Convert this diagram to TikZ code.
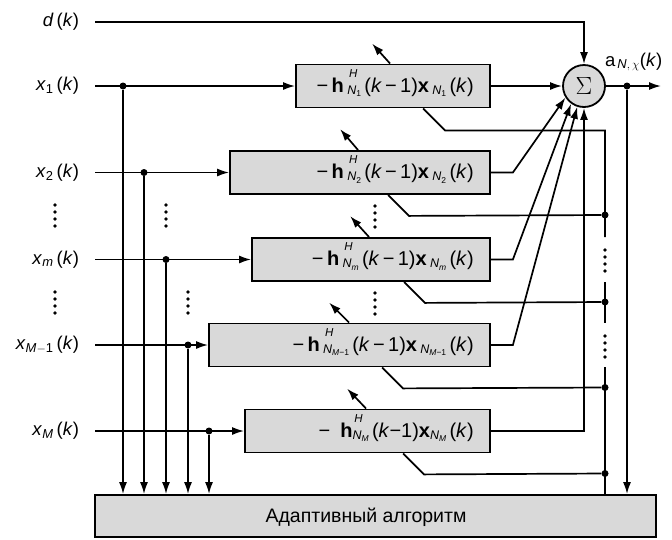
\documentclass[tikz,border=0pt]{standalone}
\usepackage{amsmath}
\usepackage{fontspec}
\setmainfont{Liberation Sans}
\usetikzlibrary{arrows.meta,positioning,calc}

\newcommand{\scr}[2]{{\fontsize{#1}{#1}\selectfont #2}}
\newcommand{\nsub}[1]{\raisebox{-2pt}{\scr{12.5}{\textit{N}}\raisebox{-2.5pt}{\scr{8.5}{#1}}}}
\newcommand{\hsup}[1]{\rlap{\raisebox{15pt}{\scr{11.5}{\,\textit{H}}}}\nsub{#1}}
\newcommand{\hterm}[1]{−\,\textbf{h}\,\hsup{#1}\,(\textit{k}\,−\,1)\textbf{x}\,\nsub{#1}\,(\textit{k})}
\newcommand{\xin}[1]{\textit{x}$_{#1}$\,(\textit{k})}
\newcommand{\vdotsat}[2]{\foreach \k in {0,...,3} \fill (#1,#2+\k*7) circle (1.9pt);}

\begin{document}
\begin{tikzpicture}[x=1pt,y=-1pt,
    blk/.style={draw, line width=1.8pt, fill=black!15, minimum height=43pt, inner sep=0pt},
    txt/.style={font=\fontsize{18.5}{21}\selectfont, inner sep=0pt},
    htxt/.style={font=\fontsize{20}{22}\selectfont, inner sep=0pt, anchor=base east},
    lbl/.style={txt, anchor=east, outer xsep=16pt},
    arr/.style={-{Latex[length=12pt,width=8pt]}, line width=1.7pt},
    ln/.style={line width=1.7pt},
    dot/.style={circle, fill, inner sep=0pt, minimum size=7pt}
]
\useasboundingbox (0,0) rectangle (672,539);

\node[blk, minimum width=194pt] (b1) at (393,86) {};
\node[blk, minimum width=260pt] (b2) at (360,172.5) {};
\node[blk, minimum width=238pt] (bm) at (371,259.5) {};
\node[blk, minimum width=281pt] (bM1) at (349.5,345) {};
\node[blk, minimum width=245pt] (bM) at (367.5,431) {};
\node[blk, minimum width=561pt, minimum height=42pt] (alg) at (375.5,516) {};
\node[txt, font=\fontsize{19.5}{22}\selectfont] (algt) at (366,517) {Адаптивный алгоритм};

\node[htxt] (t1) at ([xshift=-17pt,yshift=-6pt]b1.east) {\hterm{1}};
\node[htxt] (t2) at ([xshift=-17pt,yshift=-6pt]b2.east) {\hterm{2}};
\node[htxt] (tm) at ([xshift=-17pt,yshift=-6pt]bm.east) {\hterm{\textit{m}}};
\node[htxt] (tM1) at ([xshift=-17pt,yshift=-6pt]bM1.east) {\hterm{\textit{M}−1}};
\node[htxt] (tM) at ([xshift=-17pt,yshift=-6pt]bM.east) {−\enskip\textbf{h}\hsup{\textit{M}}\,(\textit{k}−1)\textbf{x}\nsub{\textit{M}}\,(\textit{k})};

\node[draw, circle, line width=1.8pt, fill=black!15, minimum size=42pt, inner sep=0pt, font=\fontsize{34}{36}\selectfont] (sum) at (584,86) {$\Sigma$};

\node[lbl] (d) at (95,22) {\textit{d}\,(\textit{k})};
\node[lbl] (x1) at (95,86) {\xin{\text{1}}};
\node[lbl] (x2) at (95,172.5) {\xin{\text{2}}};
\node[lbl] (xm) at (95,259.5) {\xin{\textit{m}}};
\node[lbl] (xM1) at (95,345) {\xin{\textit{M}-\text{1}}};
\node[lbl] (xM) at (95,431) {\xin{\textit{M}}};

\node[dot] (p1) at (123,86) {};
\node[dot] (p2) at (144,172.5) {};
\node[dot] (pm) at (166,259.5) {};
\node[dot] (pM1) at (188,345) {};
\node[dot] (pM) at (209,431) {};

\draw[arr] (x1.east) -- (b1.west);
\draw[arr] (x2.east) -- (b2.west);
\draw[arr] (xm.east) -- (bm.west);
\draw[arr] (xM1.east) -- (bM1.west);
\draw[arr] (xM.east) -- (bM.west);
\foreach \p in {p1,p2,pm,pM1,pM}
  \draw[arr] (\p) -- (\p |- alg.north);

\draw[arr] (d.east) -| (sum.north);
\draw[arr] (b1.east) -- (sum.west);
\draw[arr] (b2.east) -- ++(22,0) -- (sum.212);
\draw[arr] (bm.east) -- ++(22,0) -- (sum.234);
\draw[arr] (bM1.east) -- ++(22,0) -- (sum.252);
\draw[arr] (bM.east) -| (sum.south);

\coordinate (out) at (661,86);
\node[dot] (po) at (627,86) {};
\draw[arr] (sum.east) -- (out);
\draw[arr] (po) -- (po |- alg.north);
\node[txt, anchor=base west] (alab) at (605,66) {a$_{\,\textit{N},\,\chi}$(\textit{k})};

\node[dot] (q2) at (605,215) {};
\node[dot] (qm) at (605,302) {};
\node[dot] (qM1) at (605,387.5) {};
\node[dot] (qM) at (605,473.5) {};
\draw[ln] ($(b1.south west)+(128,0)$) -- ++(22,22) -| (605,237);
\draw[ln] ($(b2.south west)+(159,0)$) -- ++(21,21) -- (q2);
\draw[ln] ($(bm.south west)+(153,0)$) -- ++(21,21) -- (qm);
\draw[ln] ($(bM1.south west)+(174,0)$) -- ++(21,21) -- (qM1);
\draw[ln] ($(bM.south west)+(159,0)$) -- ++(21,21) -- (qM);
\draw[ln] (605,282) -- (605,323);
\draw[ln] (605,367) -- (qM |- alg.north);

\draw[arr] ($(b1.north west)+(95,0)$) -- ++(-18,-20);
\draw[arr] ($(b2.north west)+(129,0)$) -- ++(-18,-21);
\draw[arr] ($(bm.north west)+(118,0)$) -- ++(-19,-21);
\draw[arr] ($(bM1.north west)+(141,0)$) -- ++(-20,-20);
\draw[arr] ($(bM.north west)+(122,0)$) -- ++(-19,-20);

\vdotsat{55}{205}
\vdotsat{55}{292}
\vdotsat{166}{205}
\vdotsat{188}{292}
\vdotsat{375}{206}
\vdotsat{375}{293}
\vdotsat{605}{250}
\vdotsat{605}{336}
\end{tikzpicture}
\end{document}
